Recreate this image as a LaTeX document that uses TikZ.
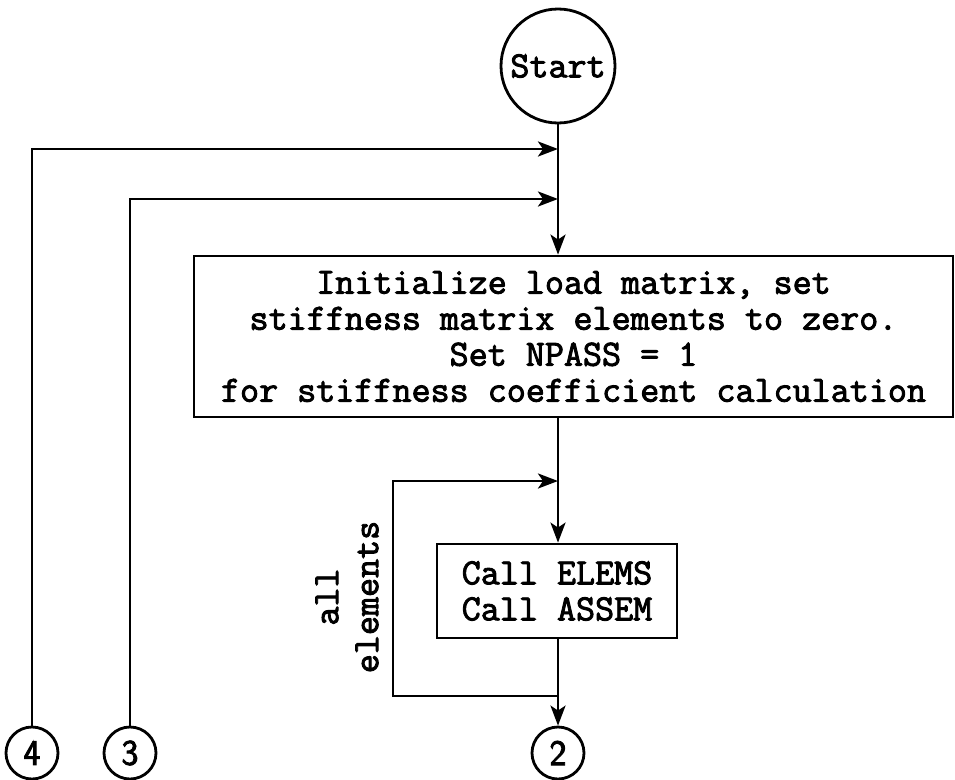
\documentclass[tikz,border=0pt]{standalone}
\usetikzlibrary{arrows.meta}
\newcommand{\heavytext}{\special{pdf:literal direct 2 Tr 0.9 w}}
\begin{document}
\begin{tikzpicture}[x=1pt,y=1pt,
  conn/.style={line width=2.8pt},
  arr/.style={conn,-{Stealth[length=20pt,width=15pt,inset=5pt]}},
  txt/.style={font=\fontsize{37}{36}\selectfont\ttfamily\heavytext},
  box/.style={draw, line width=2.8pt, rectangle, inner sep=0pt, align=center, txt},
  term/.style={draw, line width=2.8pt, circle, inner sep=0pt, txt},
  conncirc/.style={draw, line width=2.8pt, circle, inner sep=0pt, minimum size=52pt,
    font=\fontsize{36}{36}\selectfont\sffamily\heavytext}]
\useasboundingbox (0,0) rectangle (955,-779);
\node[term, minimum size=114pt] (start) at (558,-66) {Start};
\node[box, minimum width=759pt, minimum height=161pt] (init) at (573.5,-336.5)
  {Initialize load matrix, set\\stiffness matrix elements to zero.\\Set NPASS = 1\\for stiffness coefficient calculation};
\node[box, minimum width=240pt, minimum height=94pt] (calls) at (557,-591)
  {Call ELEMS\\Call ASSEM};
\node[conncirc] (c2) at (558,-753) {2};
\node[conncirc] (c3) at (130,-753) {3};
\node[conncirc] (c4) at (32,-753) {4};
\node[rotate=90, align=center, font=\fontsize{37}{40}\selectfont\ttfamily\heavytext] (lab) at (347,-597) {all\\elements};
\coordinate (j1) at (558,-149);
\coordinate (j2) at (558,-199);
\coordinate (j3) at (558,-481);
\coordinate (j4) at (558,-696);
\coordinate (lt) at (393,-481);
\coordinate (lb) at (393,-696);
\draw[arr] (start.south) -- (start.south |- init.north);
\draw[arr] (c4.north) |- (j1);
\draw[arr] (c3.north) |- (j2);
\draw[arr] (start.south |- init.south) -- (start.south |- calls.north);
\draw[arr] (j4) -- (lb) -- (lt) -- (j3);
\draw[arr] (start.south |- calls.south) -- (c2.north);
\end{tikzpicture}
\end{document}
